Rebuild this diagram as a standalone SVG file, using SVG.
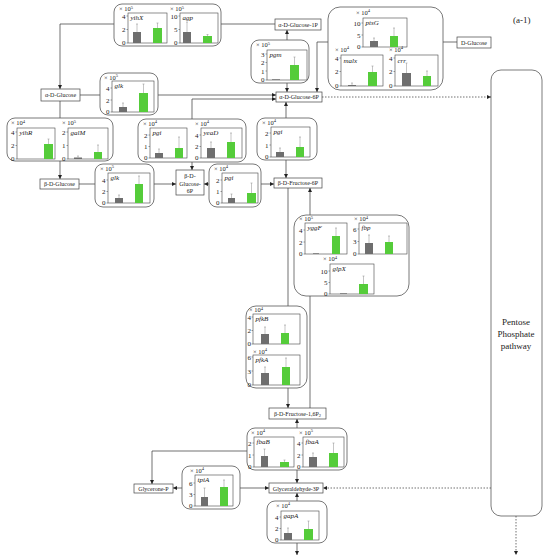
<svg xmlns="http://www.w3.org/2000/svg" width="550" height="559" viewBox="0 0 550 559">
<style>
.panel{fill:#fff;stroke:#555;stroke-width:0.8}
.box{fill:#fff;stroke:#444;stroke-width:0.7}
.frame{fill:none;stroke:#444;stroke-width:0.6}
.tk{stroke:#444;stroke-width:0.5;fill:none}
.gray{fill:#6e6e6e}
.green{fill:#55cc3a}
.err{stroke:#8a8a8a;stroke-width:0.5;fill:none}
.tick{font-family:"Liberation Serif",serif;font-size:7px;text-anchor:end;fill:#222}
.gene{font-family:"Liberation Serif",serif;font-size:7px;font-style:italic;fill:#222}
.mult{font-family:"Liberation Serif",serif;font-size:6.5px;fill:#222}
.sup{font-size:4.5px}
.lbl{font-family:"Liberation Serif",serif;font-size:6px;text-anchor:middle;fill:#222}
.conn{stroke:#333;stroke-width:0.7;fill:none}
.dot{stroke-dasharray:1.5 1.5}
.ttl{font-family:"Liberation Serif",serif;font-size:9px;fill:#222}
.pp{font-family:"Liberation Serif",serif;font-size:9px;text-anchor:middle;fill:#222}
</style>
<defs>
<marker id="ah" viewBox="0 0 6 6" refX="6" refY="3" markerWidth="4" markerHeight="4" markerUnits="userSpaceOnUse" orient="auto"><path d="M0,0 L6,3 L0,6z" fill="#222"/></marker>
</defs>

<text class="ttl" x="513" y="23">(a-1)</text>

<g id="connectors">
<path class="conn" d="M114,24 H60 V89" marker-end="url(#ah)"/>
<path class="conn" d="M221,24 H275"/>
<path class="conn" d="M60,101 V118"/>
<path class="conn" d="M60,161 V179" marker-end="url(#ah)"/>
<path class="conn" d="M80,95 H100"/>
<path class="conn" d="M158,95 H276" marker-end="url(#ah)"/>
<path class="conn" d="M192,119 V99 H276" marker-end="url(#ah)"/>
<path class="conn" d="M192,162 V170" marker-end="url(#ah)"/>
<path class="conn" d="M287,40 V30" marker-end="url(#ah)"/>
<path class="conn" d="M287,83 V92" marker-end="url(#ah)"/>
<path class="conn" d="M328,42 H317 V92" marker-end="url(#ah)"/>
<path class="conn" d="M443,42 H457"/>
<path class="conn" d="M286,118 V102" marker-end="url(#ah)"/>
<path class="conn" d="M286,160 V178" marker-end="url(#ah)"/>
<path class="conn" d="M79,184 H95"/>
<path class="conn" d="M154,184 H176" marker-end="url(#ah)"/>
<path class="conn" d="M209,184 H204" marker-end="url(#ah)"/>
<path class="conn" d="M261,184 H274" marker-end="url(#ah)"/>
<path class="conn" d="M288,188 V306"/>
<path class="conn" d="M288,388 V408" marker-end="url(#ah)"/>
<path class="conn" d="M310,215 V188" marker-end="url(#ah)"/>
<path class="conn" d="M310,296 V408"/>
<path class="conn" d="M297,428 V419" marker-end="url(#ah)"/>
<path class="conn" d="M297,470 V483" marker-end="url(#ah)"/>
<path class="conn" d="M247,451 H152 V484" marker-end="url(#ah)"/>
<path class="conn" d="M182,488 H173" marker-end="url(#ah)"/>
<path class="conn" d="M240,488 H269" marker-end="url(#ah)"/>
<path class="conn" d="M297,501 V493" marker-end="url(#ah)"/>
<path class="conn" d="M297,543 V555" marker-end="url(#ah)"/>
<path class="conn dot" d="M322,97 H491" marker-end="url(#ah)"/>
<path class="conn dot" d="M491,488 H323" marker-end="url(#ah)"/>
<path class="conn dot" d="M516,516 V555" marker-end="url(#ah)"/>
</g>

<g id="pentose-phosphate-pathway">
<rect class="box" x="491" y="70" width="51" height="446" rx="10"/>
<text class="pp" x="516" y="325">Pentose</text>
<text class="pp" x="516" y="337">Phosphate</text>
<text class="pp" x="516" y="349">pathway</text>
</g>

<g id="a-glucose-1p"><rect class="box" x="275" y="19" width="46" height="11"/><text class="lbl" x="298" y="26.5">α-D-Glucose-1P</text></g>
<g id="d-glucose"><rect class="box" x="457" y="37" width="34" height="11"/><text class="lbl" x="474" y="44.5">D-Glucose</text></g>
<g id="a-glucose"><rect class="box" x="41" y="89" width="39" height="12"/><text class="lbl" x="60.5" y="97">α-D-Glucose</text></g>
<g id="a-glucose-6p"><rect class="box" x="276" y="92" width="46" height="10"/><text class="lbl" x="299" y="99">α-D-Glucose-6P</text></g>
<g id="b-glucose"><rect class="box" x="40" y="179" width="39" height="10"/><text class="lbl" x="59.5" y="186">β-D-Glucose</text></g>
<g id="b-glucose-6p"><rect class="box" x="176" y="170" width="28" height="25"/><text class="lbl" x="190" y="178">β-D-</text><text class="lbl" x="190" y="185.5">Glucose-</text><text class="lbl" x="190" y="193">6P</text></g>
<g id="b-fructose-6p"><rect class="box" x="274" y="178" width="48" height="10"/><text class="lbl" x="298" y="185">β-D-Fructose-6P</text></g>
<g id="b-fructose-16p2"><rect class="box" x="269" y="408" width="57" height="11"/><text class="lbl" x="297.5" y="415.5">β-D-Fructose-1,6P<tspan font-size="4.5" dy="1.5">2</tspan></text></g>
<g id="glycerone-p"><rect class="box" x="134" y="484" width="39" height="9"/><text class="lbl" x="153.5" y="490.5">Glycerone-P</text></g>
<g id="glyceraldehyde-3p"><rect class="box" x="269" y="483" width="54" height="10"/><text class="lbl" x="296" y="490.5">Glyceraldehyde-3P</text></g>

<!-- yihX / agp -->
<g id="panel-yihX-agp">
<rect class="panel" x="114" y="4" width="107" height="42" rx="8"/>
<text class="mult" x="119" y="11">× 10<tspan class="sup" dy="-2.5">5</tspan></text>
<rect class="frame" x="128" y="13" width="39" height="30"/>
<path class="tk" d="M128,16 h-1.5 M128,29.5 h-1.5 M128,43 h-1.5"/>
<text class="tick" x="125.5" y="18.5">4</text><text class="tick" x="125.5" y="32">2</text><text class="tick" x="125.5" y="45">0</text>
<text class="gene" x="130.5" y="20">yihX</text>
<rect class="gray" x="133" y="32" width="8" height="11"/><rect class="green" x="153" y="28" width="9" height="15"/>
<path class="err" d="M137,32 V24 M136,24 H138 M157.5,28 V23 M156.5,23 H158.5"/>
<text class="mult" x="170" y="11">× 10<tspan class="sup" dy="-2.5">5</tspan></text>
<rect class="frame" x="180" y="13" width="38" height="30"/>
<path class="tk" d="M180,16 h-1.5 M180,29.5 h-1.5 M180,43 h-1.5"/>
<text class="tick" x="177.5" y="18.5">10</text><text class="tick" x="177.5" y="32">5</text><text class="tick" x="177.5" y="45">0</text>
<text class="gene" x="182.5" y="20">agp</text>
<rect class="gray" x="183" y="32" width="8" height="11"/><rect class="green" x="203" y="36" width="9" height="7"/>
<path class="err" d="M187,32 V22 M186,22 H188 M207.5,36 V34.5 M206.5,34.5 H208.5"/>
</g>

<!-- pgm -->
<g id="panel-pgm">
<rect class="panel" x="251" y="40" width="58" height="43" rx="8"/>
<text class="mult" x="256" y="47">× 10<tspan class="sup" dy="-2.5">5</tspan></text>
<rect class="frame" x="267" y="50" width="40" height="30"/>
<path class="tk" d="M267,54 h-1.5 M267,62.5 h-1.5 M267,71 h-1.5 M267,80 h-1.5"/>
<text class="tick" x="264.5" y="56.5">3</text><text class="tick" x="264.5" y="65">2</text><text class="tick" x="264.5" y="73.5">1</text><text class="tick" x="264.5" y="82">0</text>
<text class="gene" x="269.5" y="57">pgm</text>
<rect class="gray" x="272" y="79.3" width="8" height="0.7"/><rect class="green" x="290" y="65" width="9" height="15"/>
<path class="err" d="M294.5,65 V57 M293.5,57 H295.5"/>
</g>

<!-- ptsG / malx / crr -->
<g id="panel-ptsG-malx-crr">
<rect class="panel" x="328" y="7" width="115" height="83" rx="12"/>
<text class="mult" x="356" y="14.5">× 10<tspan class="sup" dy="-2.5">4</tspan></text>
<rect class="frame" x="363" y="18" width="44" height="29"/>
<path class="tk" d="M363,23 h-1.5 M363,35 h-1.5 M363,47 h-1.5"/>
<text class="tick" x="360.5" y="25.5">10</text><text class="tick" x="360.5" y="37.5">5</text><text class="tick" x="360.5" y="49">0</text>
<text class="gene" x="365.5" y="25">ptsG</text>
<rect class="gray" x="370" y="41" width="8" height="6"/><rect class="green" x="390" y="36" width="8" height="11"/>
<path class="err" d="M374,41 V38 M373,38 H375 M394,36 V28 M393,28 H395"/>
<text class="mult" x="335" y="51.5">× 10<tspan class="sup" dy="-2.5">4</tspan></text>
<rect class="frame" x="341" y="55" width="42" height="31"/>
<path class="tk" d="M341,58 h-1.5 M341,71.5 h-1.5 M341,86 h-1.5"/>
<text class="tick" x="338.5" y="60.5">4</text><text class="tick" x="338.5" y="74">2</text><text class="tick" x="338.5" y="88">0</text>
<text class="gene" x="343.5" y="63">malx</text>
<rect class="gray" x="348" y="85" width="8" height="1"/><rect class="green" x="368" y="72" width="9" height="14"/>
<path class="err" d="M352,85 V83 M351,83 H353 M372.5,72 V66 M371.5,66 H373.5"/>
<text class="mult" x="389" y="51.5">× 10<tspan class="sup" dy="-2.5">4</tspan></text>
<rect class="frame" x="395" y="55" width="43" height="31"/>
<path class="tk" d="M395,58 h-1.5 M395,71.5 h-1.5 M395,86 h-1.5"/>
<text class="tick" x="392.5" y="60.5">4</text><text class="tick" x="392.5" y="74">2</text><text class="tick" x="392.5" y="88">0</text>
<text class="gene" x="397.5" y="63">crr</text>
<rect class="gray" x="402" y="73" width="9" height="13"/><rect class="green" x="423" y="76" width="8" height="10"/>
<path class="err" d="M406.5,73 V63 M405.5,63 H407.5 M427,76 V71 M426,71 H428"/>
</g>

<!-- glk (alpha) -->
<g id="panel-glk-alpha">
<rect class="panel" x="100" y="73" width="58" height="42" rx="8"/>
<text class="mult" x="104" y="79.5">× 10<tspan class="sup" dy="-2.5">5</tspan></text>
<rect class="frame" x="112" y="81" width="42" height="31"/>
<path class="tk" d="M112,88 h-1.5 M112,100 h-1.5 M112,112 h-1.5"/>
<text class="tick" x="109.5" y="90.5">4</text><text class="tick" x="109.5" y="102.5">2</text><text class="tick" x="109.5" y="114">0</text>
<text class="gene" x="114.5" y="88">glk</text>
<rect class="gray" x="119" y="107" width="8" height="5"/><rect class="green" x="139" y="93" width="9" height="19"/>
<path class="err" d="M123,107 V103 M122,103 H124 M143.5,93 V84 M142.5,84 H144.5"/>
</g>

<!-- yihR / galM -->
<g id="panel-yihR-galM">
<rect class="panel" x="7" y="118" width="106" height="43" rx="8"/>
<text class="mult" x="11" y="125">× 10<tspan class="sup" dy="-2.5">4</tspan></text>
<rect class="frame" x="17" y="128" width="38" height="31"/>
<path class="tk" d="M17,132 h-1.5 M17,145.5 h-1.5 M17,159 h-1.5"/>
<text class="tick" x="14.5" y="134.5">4</text><text class="tick" x="14.5" y="148">2</text><text class="tick" x="14.5" y="161">0</text>
<text class="gene" x="19.5" y="135">yihR</text>
<rect class="green" x="44" y="144" width="9" height="15"/>
<path class="err" d="M48.5,144 V139 M47.5,139 H49.5"/>
<text class="mult" x="62" y="125">× 10<tspan class="sup" dy="-2.5">5</tspan></text>
<rect class="frame" x="68" y="128" width="40" height="31"/>
<path class="tk" d="M68,132 h-1.5 M68,145.5 h-1.5 M68,159 h-1.5"/>
<text class="tick" x="65.5" y="134.5">2</text><text class="tick" x="65.5" y="148">1</text><text class="tick" x="65.5" y="161">0</text>
<text class="gene" x="70.5" y="135">galM</text>
<rect class="gray" x="74" y="157.5" width="8" height="1.5"/><rect class="green" x="94" y="152" width="8" height="7"/>
<path class="err" d="M78,157.5 V156 M77,156 H79 M98,152 V145 M97,145 H99"/>
</g>

<!-- pgi / yeaD -->
<g id="panel-pgi-yeaD">
<rect class="panel" x="138" y="119" width="108" height="43" rx="8"/>
<text class="mult" x="143" y="125.5">× 10<tspan class="sup" dy="-2.5">4</tspan></text>
<rect class="frame" x="150" y="128" width="37" height="30"/>
<path class="tk" d="M150,135 h-1.5 M150,146.5 h-1.5 M150,158 h-1.5"/>
<text class="tick" x="147.5" y="137.5">2</text><text class="tick" x="147.5" y="149">1</text><text class="tick" x="147.5" y="160">0</text>
<text class="gene" x="152.5" y="135">pgi</text>
<rect class="gray" x="155" y="153" width="8" height="5"/><rect class="green" x="175" y="148" width="8" height="10"/>
<path class="err" d="M159,153 V149 M158,149 H160 M179,148 V137 M178,137 H180"/>
<text class="mult" x="195" y="125.5">× 10<tspan class="sup" dy="-2.5">4</tspan></text>
<rect class="frame" x="201" y="128" width="41" height="30"/>
<path class="tk" d="M201,135 h-1.5 M201,146.5 h-1.5 M201,158 h-1.5"/>
<text class="tick" x="198.5" y="137.5">4</text><text class="tick" x="198.5" y="149">2</text><text class="tick" x="198.5" y="160">0</text>
<text class="gene" x="203.5" y="135">yeaD</text>
<rect class="gray" x="207" y="148" width="8" height="10"/><rect class="green" x="227" y="142" width="8" height="16"/>
<path class="err" d="M211,148 V142 M210,142 H212 M231,142 V133 M230,133 H232"/>
</g>

<!-- pgi (alpha-G6P to F6P) -->
<g id="panel-pgi-2">
<rect class="panel" x="257" y="118" width="60" height="42" rx="8"/>
<text class="mult" x="262" y="124.5">× 10<tspan class="sup" dy="-2.5">4</tspan></text>
<rect class="frame" x="271" y="127" width="39" height="30"/>
<path class="tk" d="M271,133 h-1.5 M271,145 h-1.5 M271,157 h-1.5"/>
<text class="tick" x="268.5" y="135.5">2</text><text class="tick" x="268.5" y="147.5">1</text><text class="tick" x="268.5" y="159">0</text>
<text class="gene" x="273.5" y="134">pgi</text>
<rect class="gray" x="276" y="152" width="8" height="5"/><rect class="green" x="296" y="147" width="8" height="10"/>
<path class="err" d="M280,152 V148 M279,148 H281 M300,147 V137 M299,137 H301"/>
</g>

<!-- glk (beta) -->
<g id="panel-glk-beta">
<rect class="panel" x="95" y="164" width="59" height="43" rx="8"/>
<text class="mult" x="100" y="170.5">× 10<tspan class="sup" dy="-2.5">5</tspan></text>
<rect class="frame" x="108" y="173" width="42" height="30"/>
<path class="tk" d="M108,180 h-1.5 M108,191.5 h-1.5 M108,203 h-1.5"/>
<text class="tick" x="105.5" y="182.5">4</text><text class="tick" x="105.5" y="194">2</text><text class="tick" x="105.5" y="205">0</text>
<text class="gene" x="110.5" y="180">glk</text>
<rect class="gray" x="115" y="198" width="8" height="5"/><rect class="green" x="135" y="184" width="8" height="19"/>
<path class="err" d="M119,198 V195 M118,195 H120 M139,184 V176 M138,176 H140"/>
</g>

<!-- pgi (beta) -->
<g id="panel-pgi-3">
<rect class="panel" x="209" y="164" width="52" height="43" rx="8"/>
<text class="mult" x="214" y="170.5">× 10<tspan class="sup" dy="-2.5">4</tspan></text>
<rect class="frame" x="222" y="173" width="36" height="30"/>
<path class="tk" d="M222,180 h-1.5 M222,191.5 h-1.5 M222,203 h-1.5"/>
<text class="tick" x="219.5" y="182.5">2</text><text class="tick" x="219.5" y="194">1</text><text class="tick" x="219.5" y="205">0</text>
<text class="gene" x="224.5" y="180">pgi</text>
<rect class="gray" x="228" y="198" width="7" height="5"/><rect class="green" x="247" y="193" width="9" height="10"/>
<path class="err" d="M231.5,198 V194 M230.5,194 H232.5 M251.5,193 V183 M250.5,183 H252.5"/>
</g>

<!-- yggF / fbp / glpX -->
<g id="panel-yggF-fbp-glpX">
<rect class="panel" x="294" y="215" width="115" height="81" rx="12"/>
<text class="mult" x="299" y="221">× 10<tspan class="sup" dy="-2.5">5</tspan></text>
<rect class="frame" x="305" y="223" width="42" height="31"/>
<path class="tk" d="M305,230 h-1.5 M305,242 h-1.5 M305,254 h-1.5"/>
<text class="tick" x="302.5" y="232.5">4</text><text class="tick" x="302.5" y="244.5">2</text><text class="tick" x="302.5" y="256">0</text>
<text class="gene" x="307.5" y="230">yggF</text>
<rect class="gray" x="313" y="253.3" width="6" height="0.7"/><rect class="green" x="332" y="236" width="8" height="18"/>
<path class="err" d="M336,236 V228 M335,228 H337"/>
<text class="mult" x="354" y="221">× 10<tspan class="sup" dy="-2.5">4</tspan></text>
<rect class="frame" x="359" y="223" width="48" height="31"/>
<path class="tk" d="M359,229 h-1.5 M359,241.5 h-1.5 M359,254 h-1.5"/>
<text class="tick" x="356.5" y="231.5">6</text><text class="tick" x="356.5" y="244">3</text><text class="tick" x="356.5" y="256">0</text>
<text class="gene" x="361.5" y="230">fbp</text>
<rect class="gray" x="365" y="243" width="8" height="11"/><rect class="green" x="385" y="242" width="8" height="12"/>
<path class="err" d="M369,243 V235 M368,235 H370 M389,242 V236 M388,236 H390"/>
<text class="mult" x="323" y="261">× 10<tspan class="sup" dy="-2.5">4</tspan></text>
<rect class="frame" x="330" y="264" width="44" height="30"/>
<path class="tk" d="M330,271 h-1.5 M330,282.5 h-1.5 M330,294 h-1.5"/>
<text class="tick" x="327.5" y="273.5">10</text><text class="tick" x="327.5" y="285">5</text><text class="tick" x="327.5" y="296">0</text>
<text class="gene" x="332.5" y="271">glpX</text>
<rect class="gray" x="340" y="293.3" width="7" height="0.7"/><rect class="green" x="359" y="284" width="9" height="10"/>
<path class="err" d="M363.5,284 V276 M362.5,276 H364.5"/>
</g>

<!-- pfkB / pfkA -->
<g id="panel-pfkB-pfkA">
<rect class="panel" x="246" y="306" width="61" height="82" rx="10"/>
<text class="mult" x="249" y="312">× 10<tspan class="sup" dy="-2.5">4</tspan></text>
<rect class="frame" x="253" y="314" width="47" height="30"/>
<path class="tk" d="M253,317 h-1.5 M253,330.5 h-1.5 M253,344 h-1.5"/>
<text class="tick" x="251" y="319.5">4</text><text class="tick" x="251" y="333">2</text><text class="tick" x="251" y="345.5">0</text>
<text class="gene" x="255.5" y="321">pfkB</text>
<rect class="gray" x="261" y="334" width="8" height="10"/><rect class="green" x="281" y="333" width="8" height="11"/>
<path class="err" d="M265,334 V327 M264,327 H266 M285,333 V325 M284,325 H286"/>
<text class="mult" x="253" y="353.5">× 10<tspan class="sup" dy="-2.5">4</tspan></text>
<rect class="frame" x="253" y="355" width="47" height="30"/>
<path class="tk" d="M253,357 h-1.5 M253,371 h-1.5 M253,385 h-1.5"/>
<text class="tick" x="251" y="359.5">6</text><text class="tick" x="251" y="373.5">3</text><text class="tick" x="251" y="387">0</text>
<text class="gene" x="255.5" y="362">pfkA</text>
<rect class="gray" x="261" y="373" width="8" height="12"/><rect class="green" x="282" y="367" width="8" height="18"/>
<path class="err" d="M265,373 V367 M264,367 H266 M286,367 V358 M285,358 H287"/>
</g>

<!-- fbaB / fbaA -->
<g id="panel-fbaB-fbaA">
<rect class="panel" x="247" y="428" width="100" height="42" rx="8"/>
<text class="mult" x="251" y="434.5">× 10<tspan class="sup" dy="-2.5">4</tspan></text>
<rect class="frame" x="254" y="437" width="40" height="30"/>
<path class="tk" d="M254,443 h-1.5 M254,455 h-1.5 M254,467 h-1.5"/>
<text class="tick" x="251.5" y="445.5">2</text><text class="tick" x="251.5" y="457.5">1</text><text class="tick" x="251.5" y="469">0</text>
<text class="gene" x="256.5" y="444">fbaB</text>
<rect class="gray" x="261" y="456" width="7" height="11"/><rect class="green" x="280" y="462" width="9" height="5"/>
<path class="err" d="M264.5,456 V449 M263.5,449 H265.5 M284.5,462 V460 M283.5,460 H285.5"/>
<text class="mult" x="299" y="434.5">× 10<tspan class="sup" dy="-2.5">5</tspan></text>
<rect class="frame" x="303" y="437" width="41" height="30"/>
<path class="tk" d="M303,443 h-1.5 M303,455 h-1.5 M303,467 h-1.5"/>
<text class="tick" x="300.5" y="445.5">4</text><text class="tick" x="300.5" y="457.5">2</text><text class="tick" x="300.5" y="469">0</text>
<text class="gene" x="305.5" y="444">fbaA</text>
<rect class="gray" x="309" y="457" width="8" height="10"/><rect class="green" x="329" y="453" width="9" height="14"/>
<path class="err" d="M313,457 V453 M312,453 H314 M333.5,453 V443 M332.5,443 H334.5"/>
</g>

<!-- tpiA -->
<g id="panel-tpiA">
<rect class="panel" x="182" y="466" width="58" height="43" rx="8"/>
<text class="mult" x="190" y="472.5">× 10<tspan class="sup" dy="-2.5">4</tspan></text>
<rect class="frame" x="195" y="475" width="38" height="31"/>
<path class="tk" d="M195,483 h-1.5 M195,494.5 h-1.5 M195,506 h-1.5"/>
<text class="tick" x="192.5" y="485.5">6</text><text class="tick" x="192.5" y="497">3</text><text class="tick" x="192.5" y="508">0</text>
<text class="gene" x="197.5" y="482">tpiA</text>
<rect class="gray" x="201" y="497" width="7" height="9"/><rect class="green" x="220" y="487" width="8" height="19"/>
<path class="err" d="M204.5,497 V488 M203.5,488 H205.5 M224,487 V480 M223,480 H225"/>
</g>

<!-- gapA -->
<g id="panel-gapA">
<rect class="panel" x="267" y="501" width="60" height="42" rx="8"/>
<text class="mult" x="276" y="507.5">× 10<tspan class="sup" dy="-2.5">4</tspan></text>
<rect class="frame" x="281" y="511" width="38" height="29"/>
<path class="tk" d="M281,517 h-1.5 M281,528.5 h-1.5 M281,540 h-1.5"/>
<text class="tick" x="278.5" y="519.5">4</text><text class="tick" x="278.5" y="531">2</text><text class="tick" x="278.5" y="542">0</text>
<text class="gene" x="283.5" y="518">gapA</text>
<rect class="gray" x="284" y="533" width="8" height="7"/><rect class="green" x="304" y="529" width="9" height="11"/>
<path class="err" d="M288,533 V528 M287,528 H289 M308.5,529 V521 M307.5,521 H309.5"/>
</g>
</svg>
